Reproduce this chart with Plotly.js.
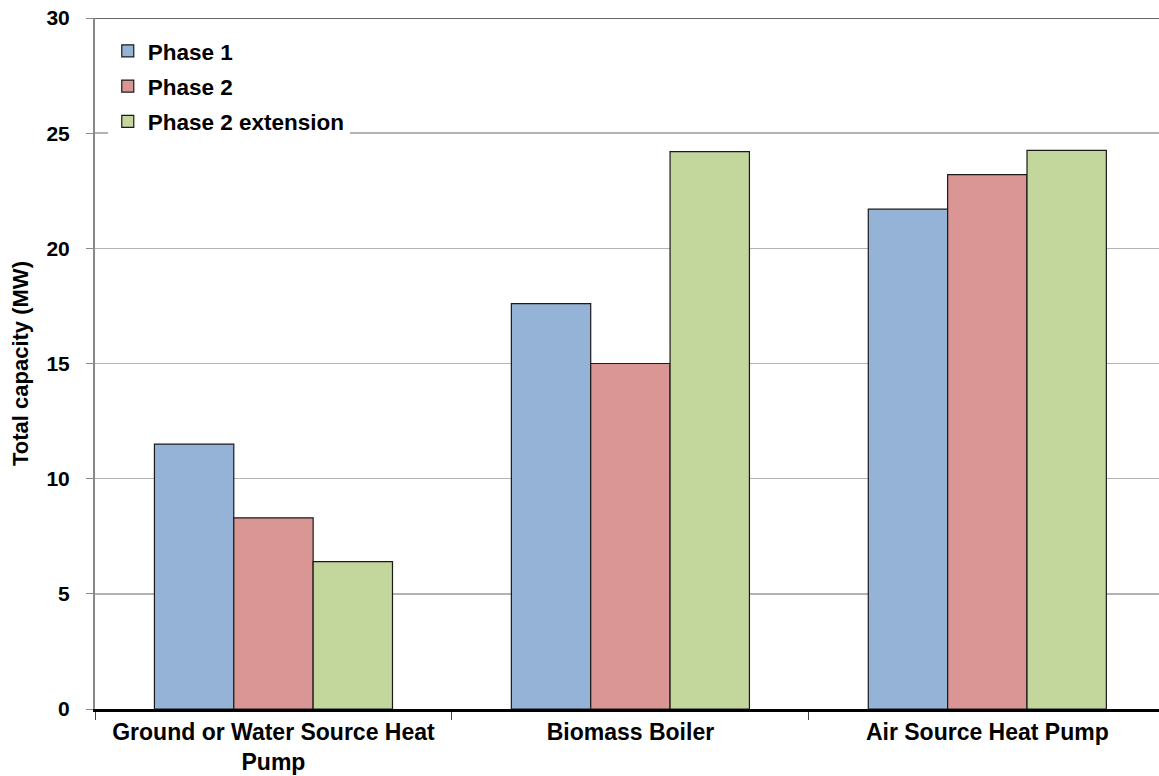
<!DOCTYPE html>
<html>
<head>
<meta charset="utf-8">
<script src="https://cdn.plot.ly/plotly-3.0.1.min.js"></script>
<style>
html,body{margin:0;padding:0;background:#fff;overflow:hidden;}
#chart{width:1159px;height:776px;}
</style>
</head>
<body>
<div id="chart"></div>
<script>
const categories = ["Ground or Water Source Heat<br>Pump", "Biomass Boiler", "Air Source Heat Pump"];
const seriesNames = ["Phase 1", "Phase 2", "Phase 2 extension"];
const phase1 = [11.5, 17.6, 21.7];
const phase2 = [8.3, 15.0, 23.2];
const phase2ext = [6.4, 24.2, 24.25];
const colors = ["#95B3D7", "#D99694", "#C3D69B"];
const yTicks = [0, 5, 10, 15, 20, 25, 30];

const values = [phase1, phase2, phase2ext];
const traces = values.map((v, i) => ({
  type: "bar",
  name: seriesNames[i],
  x: categories,
  y: v,
  legendgroup: "g" + i,
  marker: {color: colors[i], line: {color: "#1a1a1a", width: 1.2}},
  hoverinfo: "x+y"
}));

const FAM = "Liberation Sans, Arial, sans-serif";

const layout = {
  width: 1159,
  height: 776,
  margin: {l: 95, r: 0, t: 18, b: 67},
  paper_bgcolor: "#fff",
  plot_bgcolor: "#fff",
  font: {family: FAM, size: 21, color: "#000"},
  barmode: "group",
  bargap: 0.333,
  bargroupgap: 0,
  showlegend: true,
  legend: {
    x: 0.012, y: 0.983, xanchor: "left", yanchor: "top",
    bgcolor: "#fff",
    font: {family: FAM, size: 22.5, color: "#000", weight: "bold"},
    traceorder: "grouped",
    tracegroupgap: 3,
    itemwidth: 30
  },
  xaxis: {
    type: "category",
    range: [-0.5, 2.481],
    showline: true, linecolor: "#000", linewidth: 3,
    ticks: "outside", tickson: "boundaries", ticklen: 8, tickcolor: "#444", tickwidth: 1,
    showgrid: false,
    tickfont: {family: FAM, size: 23, color: "#000", weight: "bold"},
    zeroline: false
  },
  yaxis: {
    range: [0, 30],
    tickvals: yTicks,
    ticktext: yTicks.map(String),
    showline: true, linecolor: "#888", linewidth: 2,
    ticks: "outside", ticklen: 7, tickcolor: "#888", tickwidth: 1,
    ticklabelstandoff: 12,
    showgrid: true, gridcolor: "#b3b3b3", gridwidth: 1.5,
    zeroline: false,
    tickfont: {family: FAM, size: 21, color: "#000", weight: "bold"},
    title: {text: "Total capacity (MW)", standoff: 12,
      font: {family: FAM, size: 22, color: "#000", weight: "bold"}}
  },
  shapes: [{
    type: "line", xref: "paper", yref: "y", x0: 0, x1: 1, y0: 30, y1: 30,
    line: {color: "#333", width: 1.5}
  }]
};

Plotly.newPlot("chart", traces, layout, {displayModeBar: false, staticPlot: true});
</script>
</body>
</html>
